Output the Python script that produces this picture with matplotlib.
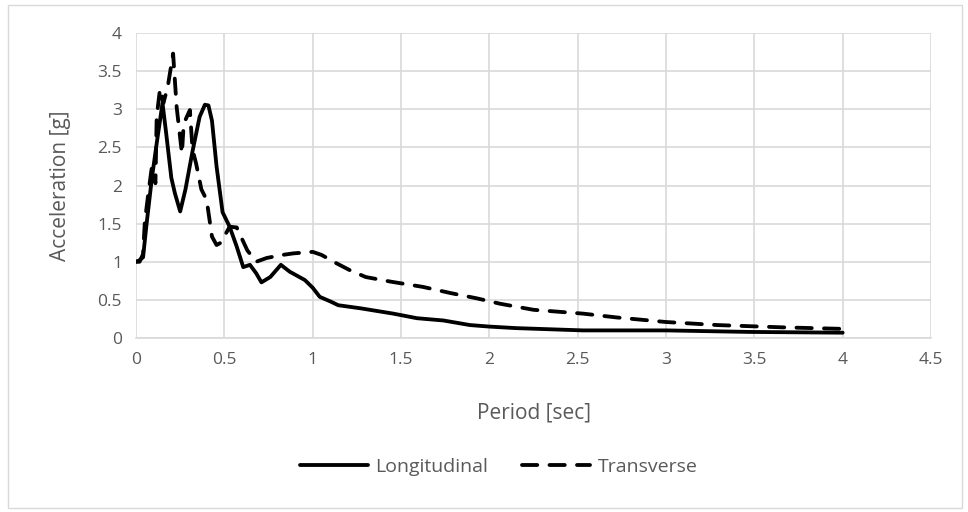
import matplotlib.pyplot as plt
from matplotlib.patches import Rectangle

plt.rcParams['font.family'] = ['Open Sans', 'DejaVu Sans']

# 纵向 (Longitudinal)
long_period = [0.0, 0.02, 0.04, 0.06, 0.09, 0.12, 0.15, 0.17, 0.2, 0.22, 0.25, 0.28,
               0.32, 0.36, 0.39, 0.41, 0.43, 0.456, 0.49, 0.53, 0.57, 0.607, 0.645,
               0.68, 0.71, 0.76, 0.82, 0.87, 0.956, 1.0, 1.04, 1.1, 1.145, 1.27,
               1.456, 1.59, 1.74, 1.89, 2.0, 2.15, 2.53, 3.0, 3.47, 4.0]
long_accel = [1.0, 1.02, 1.06, 1.5, 2.1, 2.6, 3.08, 2.7, 2.1, 1.9, 1.66, 1.95,
              2.45, 2.9, 3.06, 3.05, 2.85, 2.25, 1.65, 1.46, 1.2, 0.93, 0.96,
              0.85, 0.73, 0.8, 0.96, 0.87, 0.76, 0.66, 0.54, 0.48, 0.43, 0.39,
              0.32, 0.26, 0.23, 0.17, 0.15, 0.13, 0.10, 0.10, 0.08, 0.07]

# 横向 (Transverse)
trans_period = [0.0, 0.02, 0.04, 0.05, 0.07, 0.09, 0.11, 0.117, 0.136, 0.155, 0.18,
                0.21, 0.23, 0.26, 0.27, 0.305, 0.32, 0.34, 0.37, 0.40, 0.43, 0.456,
                0.48, 0.53, 0.57, 0.63, 0.68, 0.74, 0.83, 0.89, 1.0, 1.05, 1.135,
                1.21, 1.30, 1.44, 1.625, 1.78, 1.93, 2.06, 2.25, 2.53, 2.72, 3.0,
                3.29, 3.66, 4.0]
trans_accel = [1.0, 1.0, 1.1, 1.53, 1.9, 2.25, 2.03, 2.9, 3.27, 3.08, 3.3,
               3.73, 3.03, 2.42, 2.81, 2.99, 2.47, 2.29, 1.95, 1.81, 1.33, 1.22,
               1.25, 1.46, 1.45, 1.15, 1.0, 1.05, 1.09, 1.11, 1.13, 1.09, 0.98,
               0.89, 0.80, 0.74, 0.67, 0.59, 0.52, 0.45, 0.37, 0.32, 0.27, 0.21,
               0.17, 0.14, 0.12]

x_ticks = [0, 0.5, 1, 1.5, 2, 2.5, 3, 3.5, 4, 4.5]
y_ticks = [0, 0.5, 1, 1.5, 2, 2.5, 3, 3.5, 4]

text_color = '#595959'
grid_color = '#d9d9d9'

fig = plt.figure(figsize=(9.68, 5.12), dpi=100)
ax = fig.add_axes([0.1405, 0.3398, 0.8213, 0.5957])

ax.plot(long_period, long_accel, color='black', linewidth=2.75,
        solid_joinstyle='round', solid_capstyle='round', label='Longitudinal')
ax.plot(trans_period, trans_accel, color='black', linewidth=2.75,
        dashes=(4.0, 3.2), dash_capstyle='round', label='Transverse')

ax.set_xlim(0, 4.5)
ax.set_ylim(0, 4)
ax.set_xticks(x_ticks)
ax.set_xticklabels([f'{v:g}' for v in x_ticks])
ax.set_yticks(y_ticks)
ax.set_yticklabels([f'{v:g}' for v in y_ticks])
ax.grid(True, color=grid_color, linewidth=1.2)
ax.set_axisbelow(True)
for s in ['top', 'right', 'left']:
    ax.spines[s].set_visible(False)
ax.spines['bottom'].set_color(grid_color)
ax.spines['bottom'].set_linewidth(1.2)
ax.tick_params(length=0, labelsize=12.5, labelcolor=text_color, pad=10)

ax.set_xlabel('Period [sec]', fontsize=15, color=text_color, labelpad=25)
ax.set_ylabel('Acceleration [g]', fontsize=15, color=text_color, labelpad=19)

leg = fig.legend(loc='center', bbox_to_anchor=(0.515, 0.088), ncol=2, frameon=False,
                 fontsize=14, handlelength=3.5, columnspacing=1.7, handletextpad=0.4)
for t in leg.get_texts():
    t.set_color(text_color)

# 外框
fig.patches.append(Rectangle((8 / 968, 4 / 512), 954 / 968, 503 / 512,
                             transform=fig.transFigure, fill=False,
                             edgecolor=grid_color, linewidth=1))

fig.savefig('out.png', dpi=100)
